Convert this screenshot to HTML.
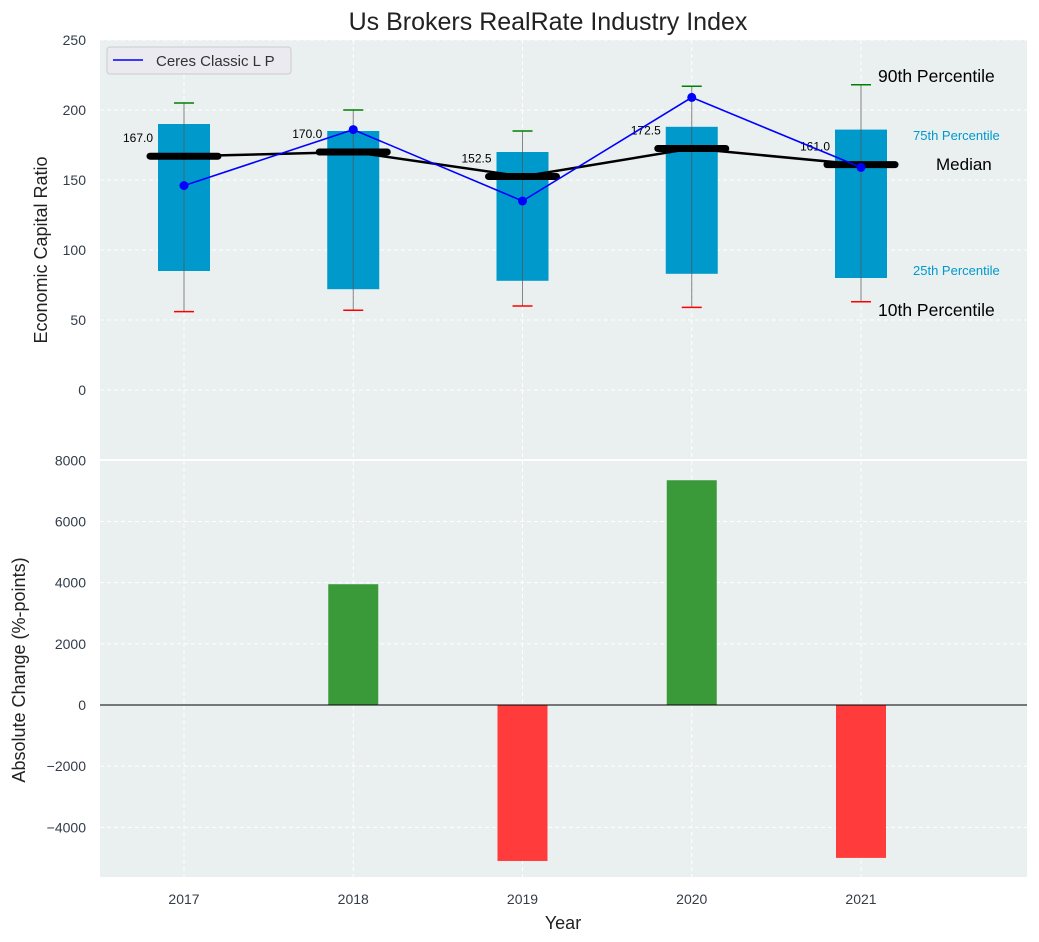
<!DOCTYPE html>
<html><head><meta charset="utf-8"><style>
body{margin:0;background:#fff;}
svg{display:block;font-family:"Liberation Sans","DejaVu Sans",sans-serif;}
</style></head><body>
<svg id="chart" width="1039" height="942"></svg>
<script>
const years=[2017,2018,2019,2020,2021];
const p10=[56,57,60,59,63];
const p25=[85,72,78,83,80];
const medians=[167,170,152.5,172.5,161];
const p75=[190,185,170,188,186];
const p90=[205,200,185,217,218];
const companyValues=[146,186,135,209,159];
const changes=[0,3950,-5100,7350,-5000];
const topTicks=[0,50,100,150,200,250];
const botTicks=[-4000,-2000,0,2000,4000,6000,8000];

const NS="http://www.w3.org/2000/svg";
const svg=document.getElementById('chart');
function el(tag,attrs,parent){const e=document.createElementNS(NS,tag);for(const k in attrs)e.setAttribute(k,attrs[k]);(parent||svg).appendChild(e);return e;}
const L=100,R=1027;
const xS=v=>184+(v-2017)*169.25;
const yT=v=>390-v*1.4;
const yB=v=>705-v*0.03058;

const p1=el('rect',{x:L,y:40,width:R-L,height:419,fill:'#eaeff0'});

const p2=el('rect',{x:L,y:461,width:R-L,height:416,fill:'#eaeff0'});


years.forEach(y=>{
  el('line',{x1:xS(y),x2:xS(y),y1:40,y2:459,stroke:'#fff','stroke-dasharray':'4,3'});
  el('line',{x1:xS(y),x2:xS(y),y1:461,y2:877,stroke:'#fff','stroke-dasharray':'4,3'});
  const t=el('text',{x:xS(y),y:904,'text-anchor':'middle','font-size':14,fill:'#333d4a'});t.textContent=y;
  
});
topTicks.forEach(v=>{
  el('line',{x1:L,x2:R,y1:yT(v),y2:yT(v),stroke:'#fff','stroke-dasharray':'4,3'});
  const t=el('text',{x:86,y:yT(v)+5,'text-anchor':'end','font-size':14,fill:'#333d4a'});t.textContent=v;
  
});
botTicks.forEach(v=>{
  el('line',{x1:L,x2:R,y1:yB(v),y2:yB(v),stroke:'#fff','stroke-dasharray':'4,3'});
  const t=el('text',{x:86,y:yB(v)+5,'text-anchor':'end','font-size':14,fill:'#333d4a'});t.textContent=(v<0?'\u2212'+(-v):v);
  
});

years.forEach((y,i)=>{
  const x=xS(y);
  const b=el('rect',{x:x-26,y:yT(p75[i]),width:52,height:yT(p25[i])-yT(p75[i]),fill:'#0099cc'});
  
  el('line',{x1:x,x2:x,y1:yT(p90[i]),y2:yT(p10[i]),stroke:'#555','stroke-width':1,opacity:0.7});
  const w1=el('line',{x1:x-10,x2:x+10,y1:yT(p90[i]),y2:yT(p90[i]),stroke:'green','stroke-width':1.5});
  
  const w2=el('line',{x1:x-10,x2:x+10,y1:yT(p10[i]),y2:yT(p10[i]),stroke:'red','stroke-width':1.5});
  
});
const ml=el('polyline',{points:years.map((y,i)=>xS(y)+','+yT(medians[i])).join(' '),fill:'none',stroke:'#000','stroke-width':2.5});

years.forEach((y,i)=>{
  const x=xS(y);
  const m=el('line',{x1:x-34,x2:x+34,y1:yT(medians[i]),y2:yT(medians[i]),stroke:'#000','stroke-width':7,'stroke-linecap':'round'});
  
  const t=el('text',{x:x-31,y:yT(medians[i])-14,'text-anchor':'end','font-size':12,fill:'#000'});t.textContent=medians[i].toFixed(1);
  
});
const cl=el('polyline',{points:years.map((y,i)=>xS(y)+','+yT(companyValues[i])).join(' '),fill:'none',stroke:'#0000ff','stroke-width':1.6});

years.forEach((y,i)=>{
  const c=el('circle',{cx:xS(y),cy:yT(companyValues[i]),r:4.5,fill:'#0000ff'});
  
});
[['90th Percentile',878,82,17.5,'#000'],['75th Percentile',913,140,13,'#0099cc'],['Median',936,170,17,'#000'],['25th Percentile',913,275,13,'#0099cc'],['10th Percentile',878,316,17.5,'#000']].forEach(a=>{
  const t=el('text',{x:a[1],y:a[2],'font-size':a[3],fill:a[4]});t.textContent=a[0];
  
});
const lg=el('g',{});

el('rect',{x:107,y:47,width:184,height:27,rx:3,fill:'#eaeaf0',stroke:'#ccc'},lg);
el('line',{x1:113,x2:143,y1:60,y2:60,stroke:'#0000ff','stroke-width':1.6},lg);
const lt=el('text',{x:156,y:66,'font-size':15,fill:'#333'},lg);lt.textContent='Ceres Classic L P';

years.forEach((y,i)=>{
  if(!changes[i])return;
  const v=changes[i];
  const r=el('rect',{x:xS(y)-25,y:Math.min(yB(v),yB(0)),width:50,height:Math.abs(yB(v)-yB(0)),fill:v>0?'#3a9a3a':'#ff3b3b'});
  
});
el('line',{x1:L,x2:R,y1:yB(0),y2:yB(0),stroke:'#000','stroke-width':1});

const tt=el('text',{x:548,y:30,'text-anchor':'middle','font-size':25,fill:'#222'});tt.textContent='Us Brokers RealRate Industry Index';

const xt=el('text',{x:563,y:929,'text-anchor':'middle','font-size':18,fill:'#222'});xt.textContent='Year';

const y1=el('text',{x:0,y:0,'text-anchor':'middle','font-size':18,fill:'#222',transform:'translate(47,250) rotate(-90)'});y1.textContent='Economic Capital Ratio';

const y2=el('text',{x:0,y:0,'text-anchor':'middle','font-size':18,fill:'#222',transform:'translate(25,670) rotate(-90)'});y2.textContent='Absolute Change (%-points)';

</script>
</body></html>
